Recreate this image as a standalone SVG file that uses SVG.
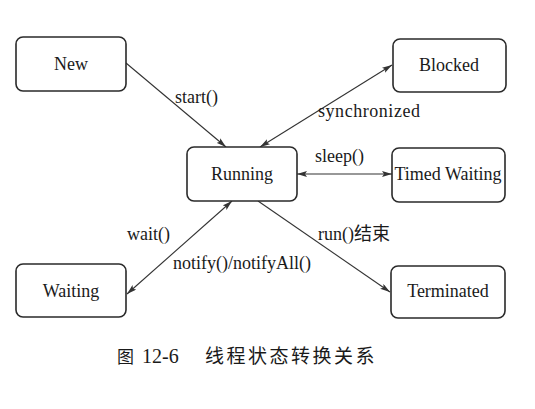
<svg xmlns="http://www.w3.org/2000/svg" width="535" height="409" viewBox="0 0 535 409">
<defs>
<style>
.box{fill:#fff;stroke:#2a2a2a;stroke-width:1.6}
.t{font-family:"Liberation Serif","Noto Sans CJK SC",serif;font-size:18px;fill:#1a1a1a}
.c{text-anchor:middle}
.e{fill:none;stroke:#333;stroke-width:1.1}
</style>
<marker id="ah" viewBox="0 0 10 6" refX="10" refY="3" markerWidth="10" markerHeight="6" markerUnits="userSpaceOnUse" orient="auto-start-reverse">
<path d="M0,0 L10,3 L0,6 L2,3 Z" fill="#333"/>
</marker>
</defs>
<rect width="535" height="409" fill="#fff"/>
<g id="edges">
<line class="e" x1="126" y1="63" x2="226" y2="147" marker-end="url(#ah)"/>
<line class="e" x1="260" y1="147" x2="392" y2="65" marker-start="url(#ah)" marker-end="url(#ah)"/>
<line class="e" x1="297" y1="174" x2="392" y2="174" marker-start="url(#ah)" marker-end="url(#ah)"/>
<line class="e" x1="258" y1="201" x2="390" y2="292" marker-end="url(#ah)"/>
<line class="e" x1="232" y1="201" x2="127" y2="294" marker-start="url(#ah)" marker-end="url(#ah)"/>
<text class="t" x="175" y="103">start()</text>
<text class="t" x="318" y="117" textLength="102">synchronized</text>
<text class="t" x="315" y="162">sleep()</text>
<text class="t" x="318" y="240">run()结束</text>
<text class="t" x="127" y="240">wait()</text>
<text class="t" x="173" y="269">notify()/notifyAll()</text>
</g>
<g id="new"><rect class="box" x="16" y="37" width="110" height="54" rx="7"/><text class="t c" x="71" y="70">New</text></g>
<g id="blocked"><rect class="box" x="393" y="39" width="113" height="53" rx="7"/><text class="t c" x="449" y="71">Blocked</text></g>
<g id="running"><rect class="box" x="187" y="147" width="110" height="54" rx="7"/><text class="t c" x="242" y="180">Running</text></g>
<g id="timed"><rect class="box" x="392" y="148" width="113" height="54" rx="7"/><text class="t c" x="448" y="180">Timed Waiting</text></g>
<g id="waiting"><rect class="box" x="16" y="264" width="110" height="53" rx="7"/><text class="t c" x="71" y="297">Waiting</text></g>
<g id="terminated"><rect class="box" x="391" y="266" width="114" height="52" rx="7"/><text class="t c" x="448" y="297">Terminated</text></g>
<g id="caption"><text class="t" x="117" y="363" style="font-size:17px">图</text><text class="t" x="142" y="363" style="font-size:20px">12-6</text><text class="t" x="205" y="363" style="font-size:19px;letter-spacing:2.5px">线程状态转换关系</text></g>
</svg>
